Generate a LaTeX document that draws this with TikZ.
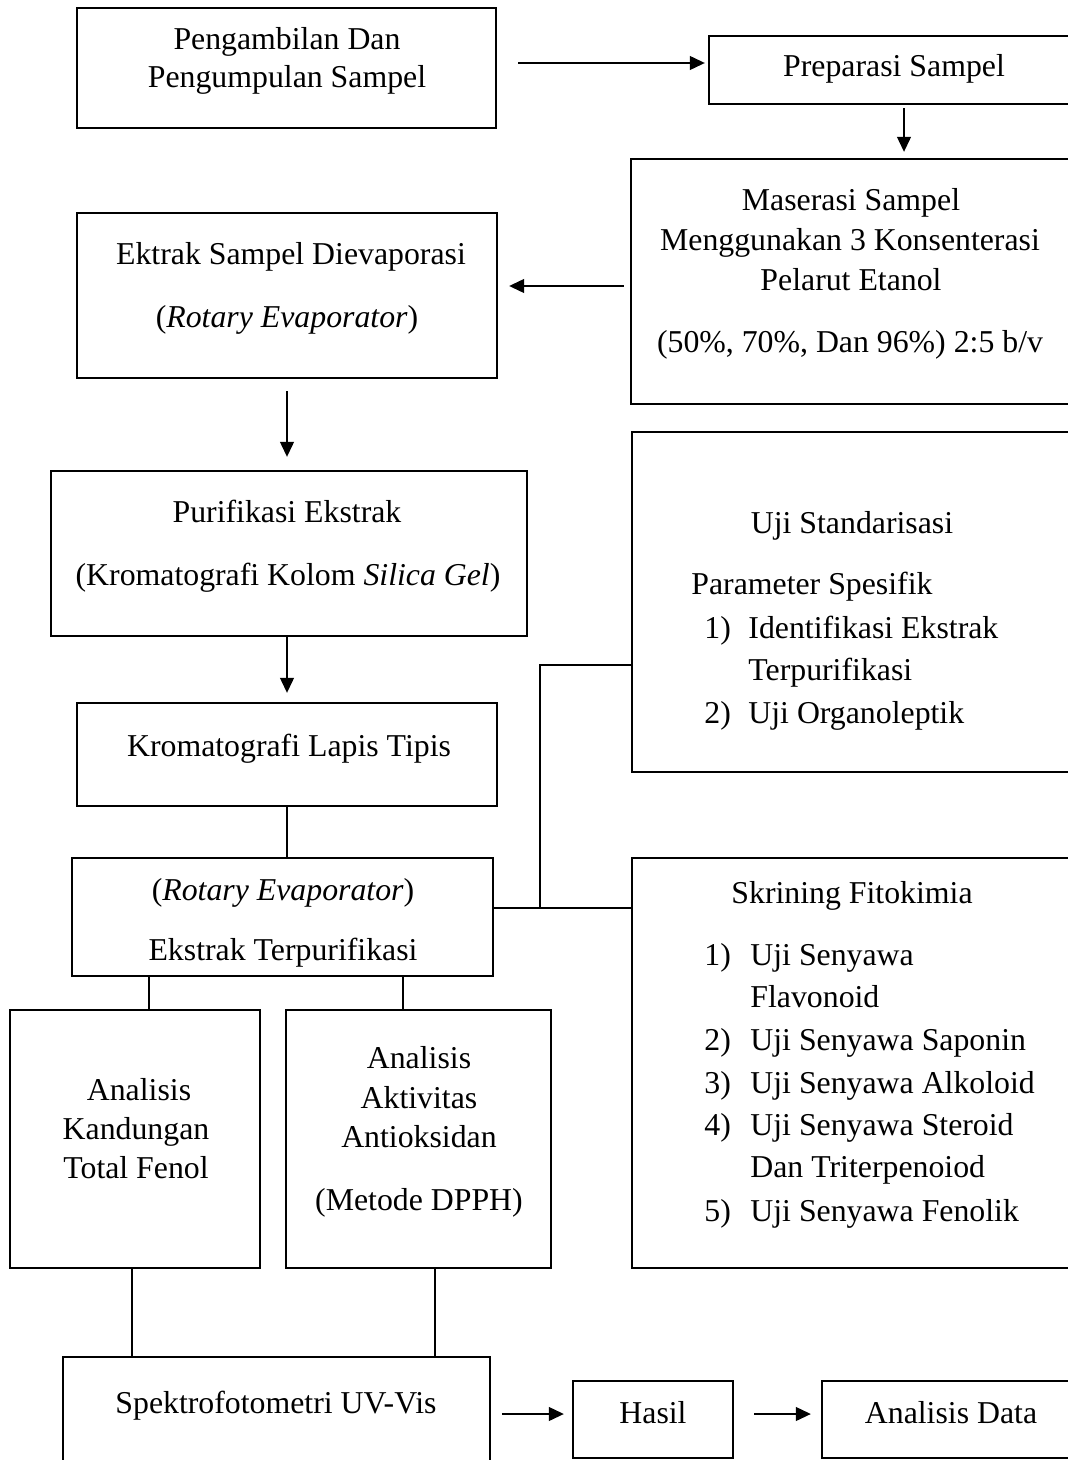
\documentclass[tikz,border=0pt]{standalone}
\usepackage{fontspec}
\setmainfont{Liberation Serif}
\usetikzlibrary{arrows.meta,calc,fit}
\begin{document}
\begin{tikzpicture}[x=0.5pt,y=-0.5pt,
  font=\fontsize{15.9}{19}\selectfont,
  box/.style={draw, line width=1.2pt, inner sep=0pt},
  conn/.style={line width=0.6pt},
  arr/.style={line width=0.6pt, -{Triangle[length=7.5pt,width=7pt]}},
  txt/.style={anchor=base, inner sep=0pt},
  ltxt/.style={anchor=base west, inner sep=0pt}]
\useasboundingbox (0,0) rectangle (1068,1460);
\clip (0,0) rectangle (1068,1460);
% boxes
\node[box, fit={(77,8) (496,128)}] (peng) {};
\node[box, fit={(709,36) (1090,104)}] (prep) {};
\node[box, fit={(631,159) (1090,404)}] (maser) {};
\node[box, fit={(77,213) (497,378)}] (evap) {};
\node[box, fit={(51,471) (527,636)}] (puri) {};
\node[box, fit={(77,703) (497,806)}] (klt) {};
\node[box, fit={(632,432) (1090,772)}] (std) {};
\node[box, fit={(72,858) (493,976)}] (terp) {};
\node[box, fit={(632,858) (1090,1268)}] (skr) {};
\node[box, fit={(10,1010) (260,1268)}] (kand) {};
\node[box, fit={(286,1010) (551,1268)}] (akt) {};
\node[box, fit={(63,1357) (490,1480)}] (spek) {};
\node[box, fit={(573,1381) (733,1458)}] (hasil) {};
\node[box, fit={(822,1381) (1090,1458)}] (data) {};
% texts
\node[txt] (tpeng1) at (287,50) {Pengambilan Dan};
\node[txt] (tpeng2) at (287,88) {Pengumpulan Sampel};
\node[txt] (tprep) at (894,77) {Preparasi Sampel};
\node[txt] (tmas1) at (851,211) {Maserasi Sampel};
\node[txt] (tmas2) at (850,251) {Menggunakan 3 Konsenterasi};
\node[txt] (tmas3) at (851,291) {Pelarut Etanol};
\node[txt] (tmas4) at (850,352) {(50\%, 70\%, Dan 96\%) 2:5 b/v};
\node[txt] (tevap1) at (291,265) {Ektrak Sampel Dievaporasi};
\node[txt] (tevap2) at (287,328) {(\textit{Rotary Evaporator})};
\node[txt] (tpuri1) at (287,522) {Purifikasi Ekstrak};
\node[txt] (tpuri2) at (288,585) {(Kromatografi Kolom \textit{Silica Gel})};
\node[txt] (tklt) at (289,756) {Kromatografi Lapis Tipis};
\node[txt] (tstd1) at (852,533) {Uji Standarisasi};
\node[ltxt] (tstd2) at (691,594) {Parameter Spesifik};
\node[ltxt] (tstdn1) at (704,638) {1)};
\node[ltxt] (tstd3) at (748,638) {Identifikasi Ekstrak};
\node[ltxt] (tstd4) at (748,680) {Terpurifikasi};
\node[ltxt] (tstdn2) at (704,723) {2)};
\node[ltxt] (tstd5) at (748,723) {Uji Organoleptik};
\node[txt] (tterp1) at (283,900) {(\textit{Rotary Evaporator})};
\node[txt] (tterp2) at (283,960) {Ekstrak Terpurifikasi};
\node[txt] (tskr) at (852,903) {Skrining Fitokimia};
\node[ltxt] (tskn1) at (704,965) {1)};
\node[ltxt] (tsk1) at (750,965) {Uji Senyawa};
\node[ltxt] (tsk1b) at (750,1007) {Flavonoid};
\node[ltxt] (tskn2) at (704,1050) {2)};
\node[ltxt] (tsk2) at (750,1050) {Uji Senyawa Saponin};
\node[ltxt] (tskn3) at (704,1093) {3)};
\node[ltxt] (tsk3) at (750,1093) {Uji Senyawa Alkoloid};
\node[ltxt] (tskn4) at (704,1135) {4)};
\node[ltxt] (tsk4) at (750,1135) {Uji Senyawa Steroid};
\node[ltxt] (tsk4b) at (750,1177) {Dan Triterpenoiod};
\node[ltxt] (tskn5) at (704,1221) {5)};
\node[ltxt] (tsk5) at (750,1221) {Uji Senyawa Fenolik};
\node[txt] (tkand1) at (139,1100) {Analisis};
\node[txt] (tkand2) at (136,1139) {Kandungan};
\node[txt] (tkand3) at (136,1178) {Total Fenol};
\node[txt] (takt1) at (419,1068) {Analisis};
\node[txt] (takt2) at (419,1108) {Aktivitas};
\node[txt] (takt3) at (419,1147) {Antioksidan};
\node[txt] (takt4) at (419,1210) {(Metode DPPH)};
\node[txt] (tspek) at (276,1413) {Spektrofotometri UV-Vis};
\node[txt] (thasil) at (653,1423) {Hasil};
\node[txt] (tdata) at (951,1423) {Analisis Data};
% helper coordinates
\coordinate (x904) at (904,0);
\coordinate (x287) at (287,0);
\coordinate (x540) at (540,0);
\coordinate (y665) at (0,665);
\coordinate (x149) at (149,0);
\coordinate (x403) at (403,0);
\coordinate (x132) at (132,0);
\coordinate (x435) at (435,0);
% connectors
\draw[arr] ($(peng.east)+(21,-5)$) -- ($(prep.west)+(-3,-7)$);
\draw[arr] ($(prep.south -| x904)+(0,3)$) -- ($(maser.north -| x904)+(0,-6)$);
\draw[arr] ($(maser.west)+(-6,4.5)$) -- ($(evap.east)+(11,-9.5)$);
\draw[arr] ($(evap.south -| x287)+(0,12)$) -- ($(puri.north -| x287)+(0,-13)$);
\draw[arr] (puri.south -| x287) -- ($(klt.north -| x287)+(0,-9)$);
\draw[conn] (klt.south -| x287) -- (terp.north -| x287);
\draw[conn] ($(terp.east)+(0,-9)$) coordinate (j1) -- (j1 -| skr.west);
\draw[conn] (j1 -| x540) |- (std.west |- y665);
\draw[conn] (terp.south -| x149) -- (kand.north -| x149);
\draw[conn] (terp.south -| x403) -- (akt.north -| x403);
\draw[conn] (kand.south -| x132) -- (spek.north -| x132);
\draw[conn] (akt.south -| x435) -- (spek.north -| x435);
\draw[arr] ($(hasil.west)+(-70,-5.5)$) -- ($(hasil.west)+(-8,-5.5)$);
\draw[arr] ($(hasil.east)+(20,-5.5)$) -- ($(data.west)+(-10,-5.5)$);
\end{tikzpicture}
\end{document}
